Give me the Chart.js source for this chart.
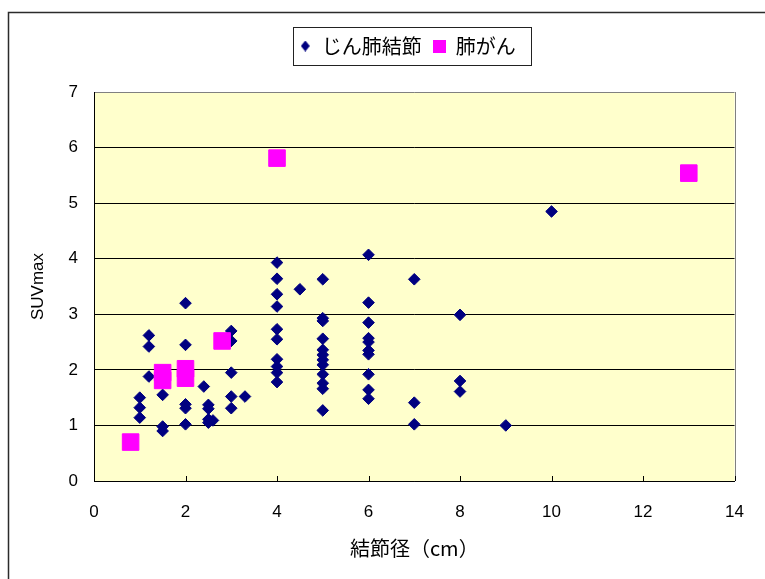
<!DOCTYPE html>
<html lang="ja">
<head>
<meta charset="utf-8">
<title>結節径とSUVmax</title>
<script src="https://cdn.jsdelivr.net/npm/chart.js@4/dist/chart.umd.min.js"></script>
<style>
  html, body { margin: 0; padding: 0; background: #ffffff; }
  #wrap { width: 765px; height: 579px; }
  canvas { display: block; }
</style>
</head>
<body>
<div id="wrap"><canvas id="chart" width="765" height="579"></canvas></div>
<script>
// Axis ranges and series names
const xRange = [0, 14];
const xStep = 2;
const yRange = [0, 7];
const yStep = 1;
const seriesNames = ['じん肺結節', '肺がん'];
const xTitle = '結節径（cm）';
const yTitle = 'SUVmax';

// じん肺結節: nodule diameter (cm) and SUVmax
const noduleX = [
  1, 1, 1,
  1.2, 1.2, 1.2,
  1.5, 1.5, 1.5,
  2, 2, 2, 2, 2,
  2.4,
  2.5, 2.5, 2.5, 2.5, 2.6,
  3, 3, 3, 3, 3,
  3.3,
  4, 4, 4, 4, 4, 4, 4, 4, 4, 4,
  4.5,
  5, 5, 5, 5, 5, 5, 5, 5, 5, 5, 5, 5,
  6, 6, 6, 6, 6, 6, 6, 6, 6, 6,
  7, 7, 7,
  8, 8, 8,
  9,
  10
];
const noduleY = [
  1.5, 1.32, 1.14,
  2.62, 2.42, 1.88,
  1.55, 0.98, 0.9,
  3.2, 2.45, 1.38, 1.31, 1.02,
  1.7,
  1.37, 1.3, 1.11, 1.05, 1.09,
  2.7, 2.52, 1.95, 1.52, 1.31,
  1.52,
  3.93, 3.64, 3.36, 3.14, 2.73, 2.55, 2.19, 2.06, 1.95, 1.78,
  3.45,
  3.63, 2.93, 2.88, 2.56, 2.36, 2.27, 2.18, 2.09, 1.92, 1.76, 1.66, 1.27,
  4.07, 3.21, 2.85, 2.57, 2.5, 2.35, 2.28, 1.92, 1.64, 1.48,
  3.63, 1.41, 1.02,
  2.99, 1.8, 1.61,
  1.0,
  4.85
];

// 肺がん: nodule diameter (cm) and SUVmax
const cancerX = [0.8, 1.5, 1.5, 2, 2, 2.8, 4, 13];
const cancerY = [0.7, 1.95, 1.81, 2.02, 1.85, 2.52, 5.81, 5.54];

const NAVY = '#000080';
const MAGENTA = '#ff00ff';
const FONT = "'Liberation Sans', 'Noto Sans CJK JP', sans-serif";
const JFONT = "'Noto Sans CJK JP', 'Liberation Sans', sans-serif";

function toPoints(xs, ys) {
  return xs.map((x, i) => ({ x: x, y: ys[i] }));
}

// Small legend markers: a diamond and a square
function markerCanvas(kind, w, h, color) {
  const c = document.createElement('canvas');
  c.width = w; c.height = h;
  const g = c.getContext('2d');
  g.fillStyle = color;
  if (kind === 'diamond') {
    g.beginPath();
    g.moveTo(w / 2, 0);
    g.lineTo(w, h / 2);
    g.lineTo(w / 2, h);
    g.lineTo(0, h / 2);
    g.closePath();
    g.fill();
  } else {
    g.fillRect(0, 0, w, h);
  }
  return c;
}
const legendIcons = [markerCanvas('diamond', 9, 11, NAVY), markerCanvas('square', 13, 13, MAGENTA)];

// Legend sits near the top edge, slightly left of the plot centre
const legendOffset = { x: -7, y: -26 };

// Plot background, outer frame, plot border, x tick marks and legend frame
const decorations = {
  id: 'decorations',
  afterLayout(chart) {
    const lg = chart.legend;
    if (!lg) return;
    lg.left += legendOffset.x;
    lg.right += legendOffset.x;
    lg.top += legendOffset.y;
    lg.bottom += legendOffset.y;
  },
  beforeDraw(chart) {
    const { ctx, chartArea: a } = chart;
    ctx.save();
    ctx.fillStyle = '#ffffff';
    ctx.fillRect(0, 0, chart.width, chart.height);
    ctx.strokeStyle = '#2b2b2b';
    ctx.lineWidth = 1.5;
    ctx.strokeRect(8.5, 12.5, chart.width + 20, chart.height + 20);
    ctx.fillStyle = '#ffffcc';
    ctx.fillRect(a.left, a.top, a.right - a.left, a.bottom - a.top);
    ctx.restore();
  },
  beforeDatasetsDraw(chart) {
    const { ctx, chartArea: a, scales } = chart;
    ctx.save();
    ctx.strokeStyle = '#808080';
    ctx.lineWidth = 1;
    ctx.beginPath();
    ctx.moveTo(Math.round(a.right) + 0.5, a.top);
    ctx.lineTo(Math.round(a.right) + 0.5, a.bottom);
    ctx.stroke();
    ctx.strokeStyle = '#000000';
    ctx.beginPath();
    scales.x.ticks.forEach(t => {
      const px = Math.round(scales.x.getPixelForValue(t.value)) + 0.5;
      ctx.moveTo(px, a.bottom);
      ctx.lineTo(px, a.bottom - 5);
    });
    ctx.stroke();
    ctx.restore();
  },
  afterDraw(chart) {
    const lg = chart.legend;
    if (!lg || !lg.legendHitBoxes || !lg.legendHitBoxes.length) return;
    const hb = lg.legendHitBoxes;
    const first = hb[0], last = hb[hb.length - 1];
    const ctx = chart.ctx;
    ctx.save();
    ctx.strokeStyle = '#222222';
    ctx.lineWidth = 1;
    const x0 = Math.round(first.left - 6) + 0.5;
    const x1 = Math.round(last.left + last.width + 15) + 0.5;
    const y0 = Math.round(first.top - 9) + 0.5;
    const y1 = Math.round(first.top + first.height + 9) + 0.5;
    ctx.strokeRect(x0, y0, x1 - x0, y1 - y0);
    ctx.restore();
  }
};

new Chart(document.getElementById('chart'), {
  type: 'scatter',
  data: {
    datasets: [
      {
        label: seriesNames[0],
        data: toPoints(noduleX, noduleY),
        pointStyle: 'rectRot',
        pointRadius: 5.8,
        pointHoverRadius: 5.8,
        backgroundColor: NAVY,
        borderColor: NAVY,
        borderWidth: 1,
        order: 1
      },
      {
        label: seriesNames[1],
        data: toPoints(cancerX, cancerY),
        pointStyle: 'rect',
        pointRadius: 11.7,
        pointHoverRadius: 11.7,
        backgroundColor: MAGENTA,
        borderColor: MAGENTA,
        borderWidth: 1,
        order: 0
      }
    ]
  },
  options: {
    responsive: false,
    animation: false,
    devicePixelRatio: 1,
    events: [],
    layout: { padding: { left: 10, right: 28, top: 25, bottom: 0 } },
    plugins: {
      tooltip: { enabled: false },
      legend: {
        position: 'top',
        fullSize: false,
        labels: {
          usePointStyle: true,
          boxWidth: 13,
          boxHeight: 13,
          padding: 11,
          color: '#000000',
          font: { family: JFONT, size: 20 },
          generateLabels(chart) {
            return chart.data.datasets.map((ds, i) => ({
              text: ds.label,
              fillStyle: ds.backgroundColor,
              strokeStyle: ds.borderColor,
              lineWidth: 0,
              pointStyle: legendIcons[i],
              hidden: false,
              datasetIndex: i
            }));
          }
        }
      }
    },
    scales: {
      x: {
        type: 'linear',
        min: xRange[0],
        max: xRange[1],
        ticks: {
          stepSize: xStep,
          color: '#000000',
          font: { family: FONT, size: 17 },
          padding: 21,
          maxRotation: 0
        },
        grid: { display: false, drawTicks: false },
        border: { display: true, color: '#000000', width: 1 },
        title: {
          display: true,
          text: xTitle,
          color: '#000000',
          font: { family: JFONT, size: 20 },
          padding: { top: 0, bottom: 19 }
        },
        afterFit(scale) {
          scale.height = 98;
        }
      },
      y: {
        type: 'linear',
        min: yRange[0],
        max: yRange[1],
        ticks: {
          stepSize: yStep,
          color: '#000000',
          font: { family: FONT, size: 17 },
          padding: 16
        },
        grid: {
          drawTicks: false,
          lineWidth: 1,
          color: ctx => (ctx.tick && ctx.tick.value === yRange[1]) ? '#808080' : '#000000'
        },
        border: { display: true, color: '#000000', width: 1 },
        title: {
          display: true,
          text: yTitle,
          color: '#000000',
          font: { family: FONT, size: 17 },
          padding: { top: 18, bottom: 0 }
        },
        afterFit(scale) {
          scale.width = 84;
          scale.paddingTop = 92;
        }
      }
    }
  },
  plugins: [decorations]
});
</script>
</body>
</html>
